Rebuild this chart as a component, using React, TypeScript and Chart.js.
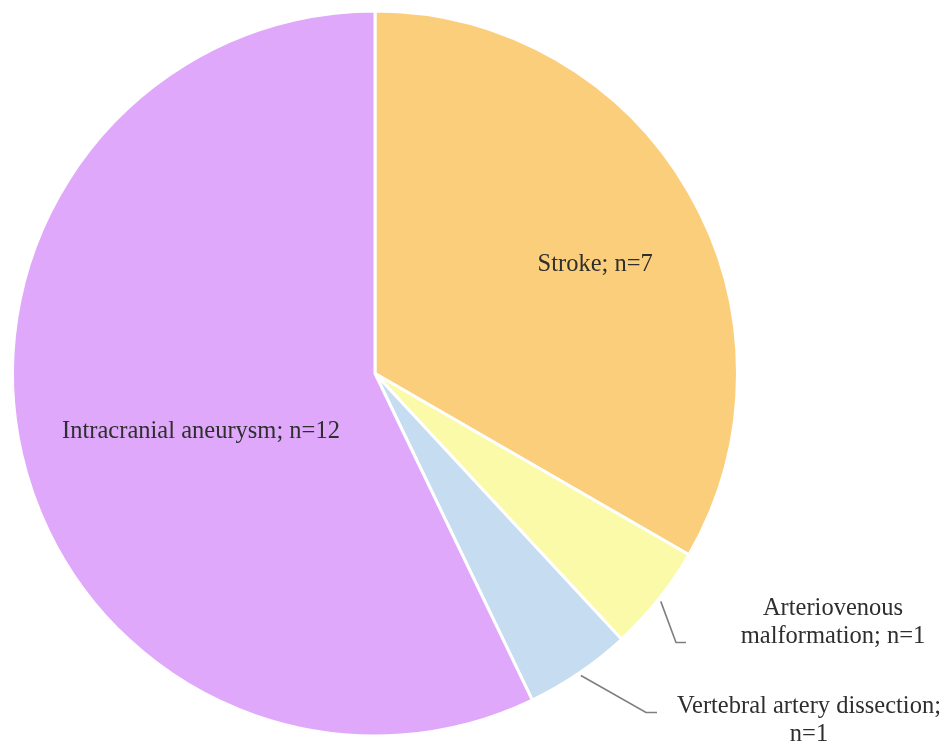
import React, { useEffect, useRef } from "react";
import { Chart, registerables } from "chart.js";

Chart.register(...registerables);

const categories = [
  "Stroke; n=7",
  "Arteriovenous malformation; n=1",
  "Vertebral artery dissection; n=1",
  "Intracranial aneurysm; n=12",
];
const values = [7, 1, 1, 12];
const colors = ["#FBCE7B", "#FAFAA8", "#C6DCF0", "#DFA8FA"];

// label rendering config (styles/positions of annotation text)
const labelLines = [
  ["Stroke; n=7"],
  ["Arteriovenous", "malformation; n=1"],
  ["Vertebral artery dissection;", "n=1"],
  ["Intracranial aneurysm; n=12"],
];

const labelPlugin = {
  id: "pieLabels",
  afterDatasetsDraw(chart: any) {
    const ctx = chart.ctx;
    const arcs = chart.getDatasetMeta(0).data;
    const font = '24.5px "Liberation Serif", "Times New Roman", serif';
    ctx.save();
    ctx.font = font;
    ctx.fillStyle = "#2e2e2e";
    ctx.textAlign = "center";
    ctx.textBaseline = "middle";
    const lh = 28;
    arcs.forEach((arc: any, i: number) => {
      const { x, y, startAngle, endAngle, outerRadius } = arc.getProps(
        ["x", "y", "startAngle", "endAngle", "outerRadius"],
        true
      );
      const mid = (startAngle + endAngle) / 2;
      const lines = labelLines[i];
      if (i === 0 || i === 3) {
        let px: number, py: number;
        if (i === 0) {
          px = x + Math.cos(mid) * outerRadius * 0.66 + 13;
          py = y + Math.sin(mid) * outerRadius * 0.66 + 11;
        } else {
          px = x - 174;
          py = y + 58;
        }
        ctx.fillText(lines[0], px, py);
      } else {
        const sx = x + Math.cos(mid) * (outerRadius + 3);
        const sy = y + Math.sin(mid) * (outerRadius + 3);
        let elbow: number[], end: number[], tx: number, ty: number;
        if (i === 1) {
          elbow = [x + 301, y + 269];
          end = [x + 311, y + 269];
          tx = x + 458;
          ty = y + 235;
        } else {
          elbow = [x + 271, y + 339];
          end = [x + 282, y + 339];
          tx = x + 434;
          ty = y + 333;
        }
        ctx.strokeStyle = "#7f7f7f";
        ctx.lineWidth = 1.6;
        ctx.beginPath();
        ctx.moveTo(sx, sy);
        ctx.lineTo(elbow[0], elbow[1]);
        ctx.lineTo(end[0], end[1]);
        ctx.stroke();
        lines.forEach((l, k) => ctx.fillText(l, tx, ty + k * lh));
      }
    });
    ctx.restore();
  },
};

export default function App() {
  const ref = useRef<HTMLCanvasElement>(null);
  useEffect(() => {
    if (!ref.current) return;
    const chart = new Chart(ref.current, {
      type: "pie",
      data: {
        labels: categories,
        datasets: [
          {
            data: values,
            backgroundColor: colors,
            borderColor: "#ffffff",
            borderWidth: 3,
          },
        ],
      },
      options: {
        responsive: false,
        animation: false,
        devicePixelRatio: 1,
        layout: { padding: { left: 11, right: 210, top: 9, bottom: 6 } },
        plugins: {
          legend: { display: false },
          tooltip: { enabled: false },
        },
      },
      plugins: [labelPlugin],
    });
    return () => chart.destroy();
  }, []);
  return (
    <div style={{ position: "fixed", left: 0, top: 0, width: 949, height: 744, background: "#fff" }}>
      <canvas ref={ref} width={949} height={744} style={{ width: 949, height: 744 }} />
    </div>
  );
}
